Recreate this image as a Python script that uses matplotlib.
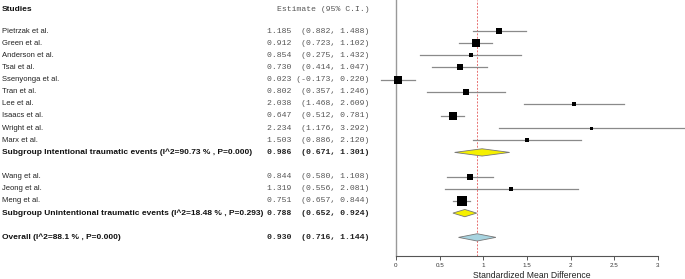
import matplotlib
matplotlib.use("Agg")
import matplotlib.pyplot as plt
import matplotlib.transforms as mtransforms
from matplotlib.patches import Polygon
import numpy as np

# ---------------- data ----------------
studies1 = ["Pietrzak et al.", "Green et al.", "Anderson et al.", "Tsai et al.",
            "Ssenyonga et al.", "Tran et al.", "Lee et al.", "Isaacs et al.",
            "Wright et al.", "Marx et al."]
est1 = [1.185, 0.912, 0.854, 0.730, 0.023, 0.802, 2.038, 0.647, 2.234, 1.503]
lo1 = [0.882, 0.723, 0.275, 0.414, -0.173, 0.357, 1.468, 0.512, 1.176, 0.886]
hi1 = [1.488, 1.102, 1.432, 1.047, 0.220, 1.246, 2.609, 0.781, 3.292, 2.120]
weights1 = [32, 53, 18.5, 36, 53, 28, 22, 69, 9, 18.5]
sub1_label = "Subgroup Intentional traumatic events (I^2=90.73 % , P=0.000)"
sub1 = (0.986, 0.671, 1.301)

studies2 = ["Wang et al.", "Jeong et al.", "Meng et al."]
est2 = [0.844, 1.319, 0.751]
lo2 = [0.580, 0.556, 0.657]
hi2 = [1.108, 2.081, 0.844]
weights2 = [40, 18.5, 106]
sub2_label = "Subgroup Unintentional traumatic events (I^2=18.48 % , P=0.293)"
sub2 = (0.788, 0.652, 0.924)

overall_label = "Overall (I^2=88.1 % , P=0.000)"
overall = (0.930, 0.716, 1.144)

xticks = [0, 0.5, 1, 1.5, 2, 2.5, 3]
xtick_labels = ["0", "0.5", "1", "1.5", "2", "2.5", "3"]
xlabel = "Standardized Mean Difference"

# ---------------- layout ----------------
W, H = 685, 279
fig = plt.figure(figsize=(W / 100, H / 100), dpi=100)
x0_px, x3_px = 396, 658
ax_bottom_px = 256
ax = fig.add_axes([x0_px / W, (H - ax_bottom_px) / H, (x3_px - x0_px) / W, ax_bottom_px / H])
ax.set_xlim(0, 3)
row_px = 12.14
first_px = 31
ax.set_ylim((ax_bottom_px - first_px) / row_px, -first_px / row_px)
ax.patch.set_alpha(0)
for s in ["top", "right", "left"]:
    ax.spines[s].set_visible(False)
ax.spines["bottom"].set_color("#555555")
ax.spines["bottom"].set_linewidth(0.8)
ax.set_yticks([])
ax.set_xticks(xticks)
ax.set_xticklabels(xtick_labels, fontsize=4.5, color="#333333", family="Liberation Sans")
ax.tick_params(axis="x", length=3, width=0.7, color="#555555", pad=2)
ax.set_xlabel(xlabel, fontsize=6.2, family="Liberation Sans", color="#222222")
ax.xaxis.set_label_coords(1.55 / 3, -(275 - ax_bottom_px) / ax_bottom_px)
ax.xaxis.label.set_va("center")

trans = mtransforms.blended_transform_factory(fig.transFigure, ax.transData)
lab_x = 2 / W
num_x = 267 / W

def fmt(e, l, h):
    ci = "(%.3f, %.3f)" % (l, h)
    return "%.3f %15s" % (e, ci)

y = 0
# header
ax.text(lab_x, -1.8, "Studies", transform=trans, fontsize=6, fontweight="bold",
        family="Liberation Sans", va="center", ha="left", color="#111111")
ax.text(370 / W, -1.8, "Estimate (95% C.I.)", transform=trans, fontsize=5.9,
        family="Liberation Mono", va="center", ha="right", color="#555555")

ci_color = "#8a8a8a"

def draw_study(y, name, e, l, h, w):
    ax.text(lab_x, y, name, transform=trans, fontsize=5.5, family="Liberation Sans",
            va="center", ha="left", color="#222222")
    ax.text(num_x, y, fmt(e, l, h), transform=trans, fontsize=5.9,
            family="Liberation Mono", va="center", ha="left", color="#555555")
    ax.plot([l, h], [y, y], color=ci_color, lw=0.9, clip_on=False, zorder=2)
    side_pt = np.sqrt(w) * 0.72
    ax.plot([e], [y], marker="s", ms=side_pt, color="black", mec="black", mew=0,
            clip_on=False, zorder=3)

def draw_summary(y, name, vals, color):
    e, l, h = vals
    ax.text(lab_x, y, name, transform=trans, fontsize=6.05, fontweight="bold",
            family="Liberation Sans", va="center", ha="left", color="#111111")
    ax.text(num_x, y, fmt(e, l, h), transform=trans, fontsize=5.9, fontweight="bold",
            family="Liberation Mono", va="center", ha="left", color="#222222")
    dh = 0.3
    poly = Polygon([[l, y], [e, y - dh], [h, y], [e, y + dh]], closed=True,
                   facecolor=color, edgecolor="#777777", lw=0.6, zorder=3, clip_on=False)
    ax.add_patch(poly)

for name, e, l, h, w in zip(studies1, est1, lo1, hi1, weights1):
    draw_study(y, name, e, l, h, w)
    y += 1
draw_summary(y, sub1_label, sub1, "#f5f000")
y += 2
for name, e, l, h, w in zip(studies2, est2, lo2, hi2, weights2):
    draw_study(y, name, e, l, h, w)
    y += 1
draw_summary(y, sub2_label, sub2, "#f5f000")
y += 2
draw_summary(y, overall_label, overall, "#a8d4e0")

ylo, yhi = ax.get_ylim()
ax.plot([0, 0], [ylo, yhi], color="#999999", lw=1.0, zorder=1, clip_on=False)
ax.plot([overall[0], overall[0]], [ylo, yhi], color="#e87070", lw=0.7,
        ls=(0, (2, 1.5)), zorder=1)

fig.savefig("out.png", dpi=100)
